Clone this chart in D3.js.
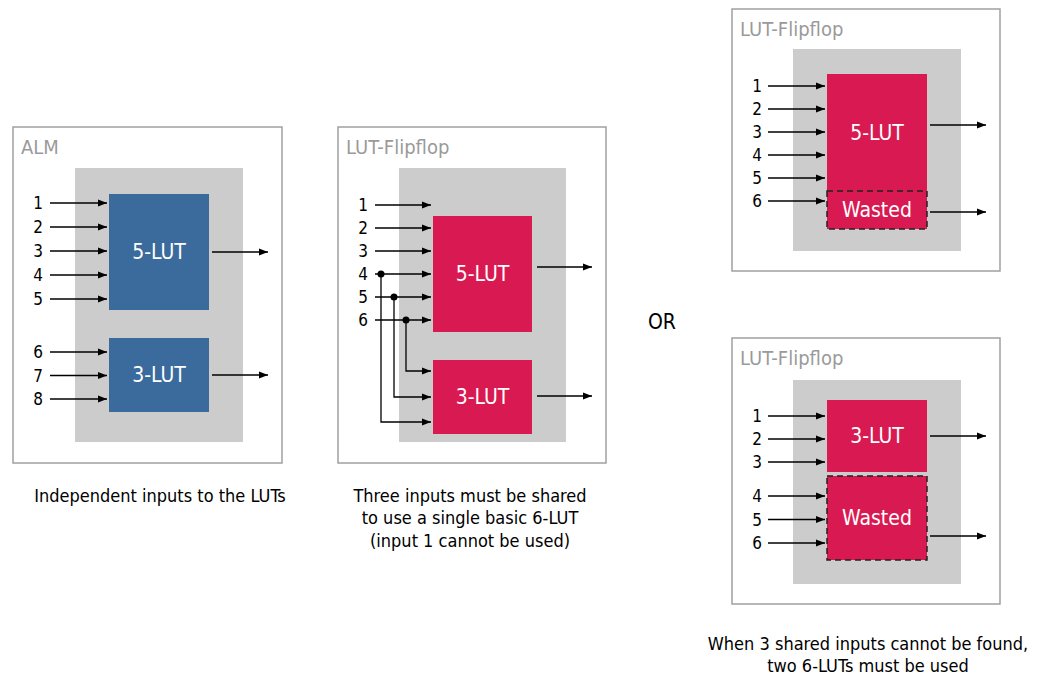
<!DOCTYPE html>
<html><head><meta charset="utf-8">
<script src="https://cdn.jsdelivr.net/npm/d3@7"></script>
<style>body{margin:0;background:#fff}text{font-family:"Liberation Sans Narrow","DejaVu Sans Condensed",sans-serif}</style>
</head><body><svg id="c" width="1044" height="688"></svg>
<script>
const almInputs = ['1', '2', '3', '4', '5', '6', '7', '8'];
const sharedInputs = ['1', '2', '3', '4', '5', '6'];
const captions = [
  ['Independent inputs to the LUTs'],
  ['Three inputs must be shared', 'to use a single basic 6-LUT', '(input 1 cannot be used)'],
  ['When 3 shared inputs cannot be found,', 'two 6-LUTs must be used']
];

const BLUE = '#3b6a9c', RED = '#d91a52', GRAY = '#cccccc';
const svg = d3.select('#c');
svg.append('defs').append('marker').attr('id', 'ar').attr('viewBox', '0 0 10 10')
  .attr('refX', 10).attr('refY', 5).attr('markerWidth', 9).attr('markerHeight', 9)
  .attr('markerUnits', 'userSpaceOnUse').attr('orient', 'auto')
  .append('path').attr('d', 'M0,1L10,5L0,9Z').attr('fill', '#000');

function rect(x, y, w, h, fill, stroke, dash) {
  svg.append('rect').attr('x', x).attr('y', y).attr('width', w).attr('height', h)
    .attr('fill', fill).attr('stroke', stroke || 'none').attr('stroke-width', stroke ? 1.5 : 0)
    .attr('stroke-dasharray', dash || null);
}
function text(x, y, s, size, fill, anchor) {
  svg.append('text').attr('x', x).attr('y', y).attr('font-size', size).attr('fill', fill)
    .attr('text-anchor', anchor || 'middle').attr('dominant-baseline', 'central').text(s);
}
function arrow(pts) {
  svg.append('path').attr('d', d3.line()(pts)).attr('fill', 'none').attr('stroke', '#000')
    .attr('stroke-width', 1.3).attr('marker-end', 'url(#ar)');
}
function panel(x, y, w, h, title, g) {
  rect(x, y, w, h, '#fff', '#a0a0a0');
  svg.select('rect:last-of-type');
  text(x + 8, y + 20, title, 20, '#9a9a9a', 'start');
  rect(g[0], g[1], g[2] - g[0], g[3] - g[1], GRAY);
}
function block(x, y, w, h, fill, label, dashed) {
  rect(x, y, w, h, fill, dashed ? '#222' : null, dashed ? '6,4' : null);
  text(x + w / 2, y + h / 2, label, 21, '#fff');
}
function inputs(labels, ys, lx, x0, x1) {
  labels.forEach((l, i) => {
    text(lx, ys[i], l, 17, '#000');
    if (x1 != null) arrow([[x0, ys[i]], [x1, ys[i]]]);
  });
}

// Panel 1: ALM
panel(13, 127, 269, 336, 'ALM', [75, 168, 243, 442]);
block(109, 194, 100, 116, BLUE, '5-LUT');
block(109, 338, 100, 74, BLUE, '3-LUT');
const y1 = d3.scalePoint().domain(almInputs.slice(0, 5)).range([203, 299]);
const y1b = d3.scalePoint().domain(almInputs.slice(5)).range([352, 399]);
inputs(almInputs.slice(0, 5), almInputs.slice(0, 5).map(y1), 38, 50, 107);
inputs(almInputs.slice(5), almInputs.slice(5).map(y1b), 38, 50, 107);
arrow([[212, 252], [268, 252]]);
arrow([[212, 375], [268, 375]]);

// Panel 2: shared inputs
panel(338, 127, 268, 336, 'LUT-Flipflop', [399, 168, 566, 442]);
block(433, 216, 99, 116, RED, '5-LUT');
block(433, 360, 99, 74, RED, '3-LUT');
const y2 = d3.scalePoint().domain(sharedInputs).range([205, 320]);
inputs(sharedInputs, sharedInputs.map(y2), 363, 375, 431);
const share = [['4', 381, 422], ['5', 394, 397], ['6', 406, 371]];
share.forEach(([k, jx, ty]) => {
  arrow([[jx, y2(k)], [jx, ty], [431, ty]]);
  svg.append('circle').attr('cx', jx).attr('cy', y2(k)).attr('r', 3.5).attr('fill', '#000');
});
arrow([[537, 267], [592, 267]]);
arrow([[537, 396], [592, 396]]);

text(662, 322, 'OR', 21, '#000');

// Panel 3: 5-LUT + wasted
panel(732, 9, 268, 262, 'LUT-Flipflop', [793, 49, 961, 251]);
block(827, 74, 100, 117, RED, '5-LUT');
block(827, 191, 100, 38, RED, 'Wasted', true);
const y3 = d3.scalePoint().domain(sharedInputs).range([86, 201]);
inputs(sharedInputs, sharedInputs.map(y3), 757, 768, 825);
arrow([[930, 125], [986, 125]]);
arrow([[930, 212], [986, 212]]);

// Panel 4: 3-LUT + wasted
panel(732, 338, 268, 266, 'LUT-Flipflop', [793, 380, 961, 584]);
block(827, 400, 100, 72, RED, '3-LUT');
block(827, 476, 100, 84, RED, 'Wasted', true);
const y4a = d3.scalePoint().domain(sharedInputs.slice(0, 3)).range([416, 462]);
const y4b = d3.scalePoint().domain(sharedInputs.slice(3)).range([496, 543]);
inputs(sharedInputs.slice(0, 3), sharedInputs.slice(0, 3).map(y4a), 757, 768, 825);
inputs(sharedInputs.slice(3), sharedInputs.slice(3).map(y4b), 757, 768, 825);
arrow([[930, 436], [986, 436]]);
arrow([[930, 536], [986, 536]]);

// captions
[[160, 495], [470, 495], [868, 643]].forEach(([cx, cy], i) => {
  captions[i].forEach((line, j) => text(cx, cy + j * 22.5, line, 18, '#000'));
});
</script></body></html>
